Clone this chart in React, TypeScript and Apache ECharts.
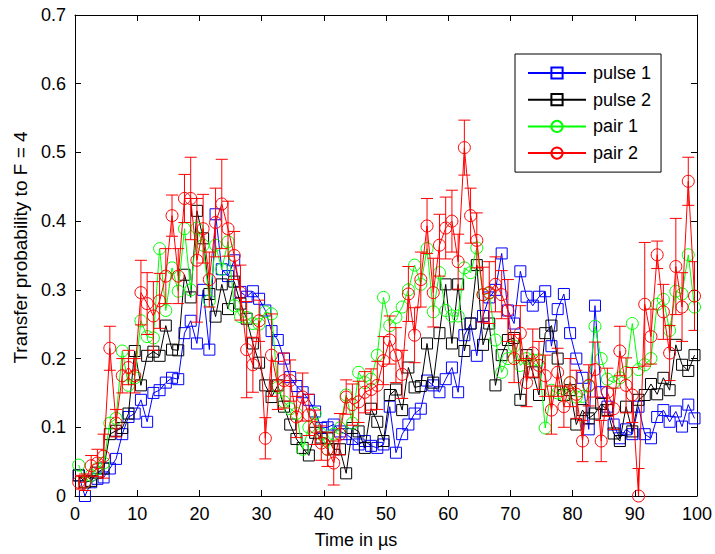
import React, { useEffect, useRef } from "react";
import * as echarts from "echarts";

// sample times (µs): one sample per µs starting at 0.6
const times: number[] = Array.from({ length: 100 }, (_, i) => +(0.6 + i).toFixed(1));

const pulse1: number[] = [
  0.03, 0.0, 0.02, 0.025, 0.027, 0.04, 0.054, 0.09, 0.115, 0.12,
  0.14, 0.108, 0.15, 0.154, 0.165, 0.172, 0.17, 0.237, 0.255, 0.222,
  0.3, 0.213, 0.41, 0.33, 0.32, 0.343, 0.297, 0.29, 0.298, 0.287,
  0.27, 0.24, 0.227, 0.2, 0.173, 0.16, 0.151, 0.14, 0.123, 0.099,
  0.1, 0.104, 0.094, 0.09, 0.083, 0.075, 0.08, 0.073, 0.07, 0.075,
  0.13, 0.063, 0.09, 0.104, 0.12, 0.127, 0.168, 0.161, 0.151, 0.17,
  0.187, 0.151, 0.234, 0.251, 0.204, 0.262, 0.289, 0.3, 0.353, 0.27,
  0.251, 0.327, 0.29, 0.277, 0.29, 0.298, 0.218, 0.272, 0.294, 0.237,
  0.2, 0.172, 0.097, 0.277, 0.151, 0.13, 0.104, 0.084, 0.097, 0.09,
  0.13, 0.09, 0.084, 0.115, 0.125, 0.108, 0.123, 0.101, 0.133, 0.113,
];

const pulse2: number[] = [
  0.03, 0.02, 0.022, 0.034, 0.04, 0.09, 0.095, 0.099, 0.12, 0.211,
  0.161, 0.204, 0.21, 0.204, 0.248, 0.213, 0.212, 0.322, 0.289, 0.415,
  0.375, 0.294, 0.261, 0.308, 0.272, 0.312, 0.28, 0.258, 0.222, 0.194,
  0.161, 0.144, 0.161, 0.13, 0.104, 0.083, 0.07, 0.059, 0.092, 0.085,
  0.084, 0.068, 0.068, 0.033, 0.099, 0.094, 0.07, 0.127, 0.108, 0.08,
  0.147, 0.155, 0.125, 0.187, 0.158, 0.16, 0.222, 0.165, 0.237, 0.308,
  0.222, 0.308, 0.211, 0.251, 0.336, 0.22, 0.251, 0.161, 0.205, 0.227,
  0.23, 0.14, 0.205, 0.18, 0.147, 0.237, 0.248, 0.2, 0.147, 0.154,
  0.104, 0.125, 0.113, 0.12, 0.134, 0.125, 0.091, 0.08, 0.13, 0.094,
  0.14, 0.147, 0.163, 0.148, 0.172, 0.154, 0.22, 0.191, 0.182, 0.205,
];

const pair1: number[] = [
  0.045, 0.02, 0.03, 0.04, 0.048, 0.106, 0.113, 0.211, 0.161, 0.172,
  0.255, 0.232, 0.23, 0.36, 0.27, 0.332, 0.298, 0.389, 0.3, 0.39,
  0.365, 0.284, 0.365, 0.33, 0.37, 0.277, 0.261, 0.26, 0.251, 0.25,
  0.268, 0.265, 0.158, 0.137, 0.127, 0.12, 0.068, 0.1, 0.12, 0.09,
  0.068, 0.09, 0.099, 0.147, 0.106, 0.18, 0.165, 0.17, 0.205, 0.289,
  0.248, 0.26, 0.275, 0.3, 0.336, 0.308, 0.36, 0.268, 0.325, 0.27,
  0.262, 0.262, 0.332, 0.325, 0.361, 0.293, 0.295, 0.227, 0.18, 0.2,
  0.218, 0.19, 0.2, 0.198, 0.198, 0.099, 0.154, 0.15, 0.147, 0.165,
  0.144, 0.145, 0.16, 0.247, 0.2, 0.17, 0.165, 0.172, 0.18, 0.251,
  0.184, 0.191, 0.2, 0.279, 0.286, 0.241, 0.298, 0.294, 0.351, 0.275,
];

const pair2: number[] = [
  0.02, 0.02, 0.044, 0.048, 0.058, 0.215, 0.106, 0.175, 0.187, 0.175,
  0.296, 0.28, 0.262, 0.284, 0.32, 0.408, 0.32, 0.433, 0.433, 0.343,
  0.389, 0.315, 0.398, 0.425, 0.389, 0.35, 0.296, 0.213, 0.191, 0.255,
  0.084, 0.205, 0.161, 0.168, 0.168, 0.115, 0.144, 0.118, 0.1, 0.077,
  0.068, 0.048, 0.09, 0.144, 0.133, 0.137, 0.151, 0.155, 0.161, 0.197,
  0.227, 0.205, 0.177, 0.294, 0.234, 0.315, 0.393, 0.296, 0.365, 0.39,
  0.4, 0.341, 0.507, 0.408, 0.372, 0.293, 0.296, 0.308, 0.293, 0.27,
  0.2, 0.237, 0.165, 0.208, 0.19, 0.175, 0.125, 0.18, 0.13, 0.165,
  0.148, 0.08, 0.161, 0.184, 0.08, 0.151, 0.127, 0.211, 0.161, 0.147,
  0.0, 0.279, 0.232, 0.351, 0.268, 0.208, 0.334, 0.275, 0.458, 0.291,
];

// half-length of the pair 2 error bars
const pair2Err: number[] = [
  0.01, 0.012, 0.015, 0.02, 0.032, 0.032, 0.02, 0.025, 0.025, 0.025,
  0.047, 0.045, 0.05, 0.04, 0.04, 0.03, 0.04, 0.035, 0.06, 0.09,
  0.05, 0.04, 0.05, 0.065, 0.04, 0.035, 0.04, 0.07, 0.04, 0.03,
  0.03, 0.06, 0.035, 0.04, 0.03, 0.03, 0.035, 0.03, 0.025, 0.025,
  0.025, 0.032, 0.03, 0.025, 0.03, 0.03, 0.03, 0.03, 0.035, 0.035,
  0.035, 0.04, 0.035, 0.04, 0.04, 0.04, 0.04, 0.05, 0.045, 0.045,
  0.045, 0.04, 0.04, 0.04, 0.04, 0.04, 0.045, 0.04, 0.035, 0.045,
  0.035, 0.04, 0.035, 0.035, 0.035, 0.03, 0.035, 0.035, 0.03, 0.035,
  0.035, 0.03, 0.03, 0.04, 0.03, 0.035, 0.03, 0.036, 0.04, 0.04,
  0.04, 0.09, 0.04, 0.02, 0.04, 0.04, 0.07, 0.05, 0.035, 0.05,
];

const seriesNames = ["pulse 1", "pulse 2", "pair 1", "pair 2"];
const xTicks = { min: 0, max: 100, interval: 10 };
const yTicks = { min: 0, max: 0.7, interval: 0.1 };

const FONT = "Liberation Sans, Arial, Helvetica, sans-serif";

export default function App() {
  const ref = useRef<HTMLDivElement>(null);

  useEffect(() => {
    if (!ref.current) return;
    const chart = echarts.init(ref.current, undefined, { renderer: "svg" });

    const zip = (vals: number[]) => times.map((t, i) => [t, vals[i]]);
    const errData = times.map((t, i) => [t, pair2[i] - pair2Err[i], pair2[i] + pair2Err[i]]);

    const lineSeries = (name: string, vals: number[], color: string, symbol: string, z: number) => ({
      name,
      type: "line",
      data: zip(vals),
      symbol,
      symbolSize: symbol === "rect" ? 11 : 12,
      showSymbol: true,
      lineStyle: { color, width: 1 },
      itemStyle: { color: "rgba(255,255,255,0)", borderColor: color, borderWidth: 1 },
      emphasis: { disabled: true },
      z,
    });

    const axisCommon = {
      axisLine: { show: true, onZero: false, lineStyle: { color: "#000", width: 1 } },
      axisTick: { show: true, inside: true, length: 6, lineStyle: { color: "#000" } },
      splitLine: { show: false },
    };

    chart.setOption({
      animation: false,
      backgroundColor: "#fff",
      grid: { left: 75, top: 15, width: 622, height: 491, containLabel: false },
      legend: {
        data: seriesNames,
        orient: "vertical",
        left: 515,
        top: 54,
        padding: [10, 10, 10, 12],
        itemWidth: 58,
        itemHeight: 14,
        itemGap: 8.7,
        backgroundColor: "#fff",
        borderColor: "#000",
        borderWidth: 1,
        textStyle: { color: "#000", fontSize: 18, fontFamily: FONT, padding: [0, 0, 0, 2] },
        selectedMode: false,
      },
      xAxis: [
        {
          type: "value",
          ...xTicks,
          position: "bottom",
          ...axisCommon,
          axisLabel: { color: "#000", fontSize: 18, fontFamily: FONT, margin: 9 },
          name: "Time in µs",
          nameLocation: "middle",
          nameGap: 35,
          nameTextStyle: { color: "#000", fontSize: 18, fontFamily: FONT, padding: [0, 60, 0, 0] },
        },
        {
          type: "value",
          ...xTicks,
          position: "top",
          ...axisCommon,
          axisLabel: { show: false },
        },
      ],
      yAxis: [
        {
          type: "value",
          ...yTicks,
          position: "left",
          ...axisCommon,
          axisLabel: { color: "#000", fontSize: 18, fontFamily: FONT, margin: 9 },
          name: "Transfer probability to F = 4",
          nameLocation: "middle",
          nameGap: 45,
          nameTextStyle: { color: "#000", fontSize: 19, fontFamily: FONT, padding: [0, 0, 0, 16] },
        },
        {
          type: "value",
          ...yTicks,
          position: "right",
          ...axisCommon,
          axisLabel: { show: false },
        },
      ],
      series: [
        lineSeries(seriesNames[0], pulse1, "#0000ff", "rect", 2),
        lineSeries(seriesNames[1], pulse2, "#000000", "rect", 3),
        lineSeries(seriesNames[2], pair1, "#00ff00", "circle", 4),
        {
          name: "pair 2 error",
          type: "custom",
          data: errData,
          encode: { x: 0, y: [1, 2] },
          clip: true,
          z: 5,
          silent: true,
          renderItem: (params: any, api: any) => {
            const x = api.value(0);
            const lo = api.coord([x, api.value(1)]);
            const hi = api.coord([x, api.value(2)]);
            const w = 6;
            const st = { stroke: "#ff0000", lineWidth: 1 };
            return {
              type: "group",
              children: [
                { type: "line", shape: { x1: lo[0], y1: lo[1], x2: hi[0], y2: hi[1] }, style: st },
                { type: "line", shape: { x1: lo[0] - w, y1: lo[1], x2: lo[0] + w, y2: lo[1] }, style: st },
                { type: "line", shape: { x1: hi[0] - w, y1: hi[1], x2: hi[0] + w, y2: hi[1] }, style: st },
              ],
            };
          },
        },
        lineSeries(seriesNames[3], pair2, "#ff0000", "circle", 6),
      ],
    });

    return () => chart.dispose();
  }, []);

  return (
    <div
      ref={ref}
      style={{ position: "absolute", left: 0, top: 0, width: 715, height: 554 }}
    />
  );
}
